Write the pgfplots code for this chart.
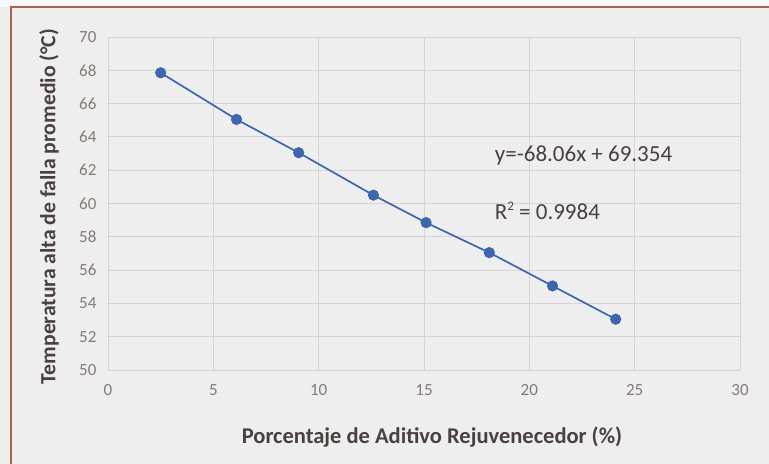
\documentclass[border=0pt]{standalone}
\usepackage{pgfplots}
\pgfplotsset{compat=1.18}
\usepackage{fontspec}
\setmainfont{Carlito}
\definecolor{bgc}{HTML}{EFEEEE}
\definecolor{framec}{HTML}{A0674A}
\definecolor{gridc}{HTML}{DDD3CE}
\definecolor{tickc}{HTML}{857A75}
\definecolor{labc}{HTML}{4A4040}
\definecolor{linec}{HTML}{3D66AE}
\begin{document}
\begin{tikzpicture}[x=1bp,y=1bp]
\useasboundingbox (0,0) rectangle (769,464);
\fill[bgc] (0,0) rectangle (769,464);
\fill[white!60!bgc] (0,457) rectangle (769,464);
\draw[framec, line width=1.5bp] (11,0) -- (11,457) -- (769,457);
\begin{axis}[
  at={(108bp,94bp)}, anchor=south west,
  scale only axis, width=632bp, height=333bp,
  xmin=0, xmax=30, ymin=50, ymax=70,
  xtick={0,5,...,30}, ytick={50,52,...,70},
  grid=major,
  major grid style={gridc, line width=0.8bp},
  axis line style={gridc, line width=0.8bp},
  major tick length=0pt,
  tick label style={font=\fontsize{17bp}{18bp}\selectfont, text=tickc},
  /pgf/number format/assume math mode=true,
  xticklabel style={yshift=-11bp},
  yticklabel style={xshift=-8bp},
  xlabel={Porcentaje de Aditivo Rejuvenecedor (\%)},
  ylabel={Temperatura alta de falla promedio (°C)},
  label style={text=labc},
  xlabel style={font=\bfseries\fontsize{22.5bp}{24bp}\selectfont, at={(axis description cs:0.5,0)}, anchor=center, yshift=-67bp, xshift=8bp},
  ylabel style={font=\bfseries\fontsize{21.7bp}{24bp}\selectfont, at={(axis description cs:0,0.5)}, anchor=center, yshift=59bp, xshift=-3bp},
  clip=false,
]
\addplot[linec, line width=1.7bp, mark=*, mark size=4.7bp, mark options={fill=linec, draw=linec}]
coordinates {
(2.5,67.85) (6.1,65.05) (9.05,63.05) (12.6,60.5) (15.1,58.85) (18.1,57.05) (21.1,55.05) (24.1,53.05)
};
\node[anchor=west, text=labc, font=\fontsize{23bp}{25bp}\selectfont] at (axis cs:18.2,62.9) {y=-68.06x + 69.354};
\node[anchor=west, text=labc, font=\fontsize{23bp}{25bp}\selectfont] at (axis cs:18.2,59.55) {R\raisebox{0.75ex}{\fontsize{13bp}{14bp}\selectfont 2} = 0.9984};
\end{axis}
\end{tikzpicture}
\end{document}
